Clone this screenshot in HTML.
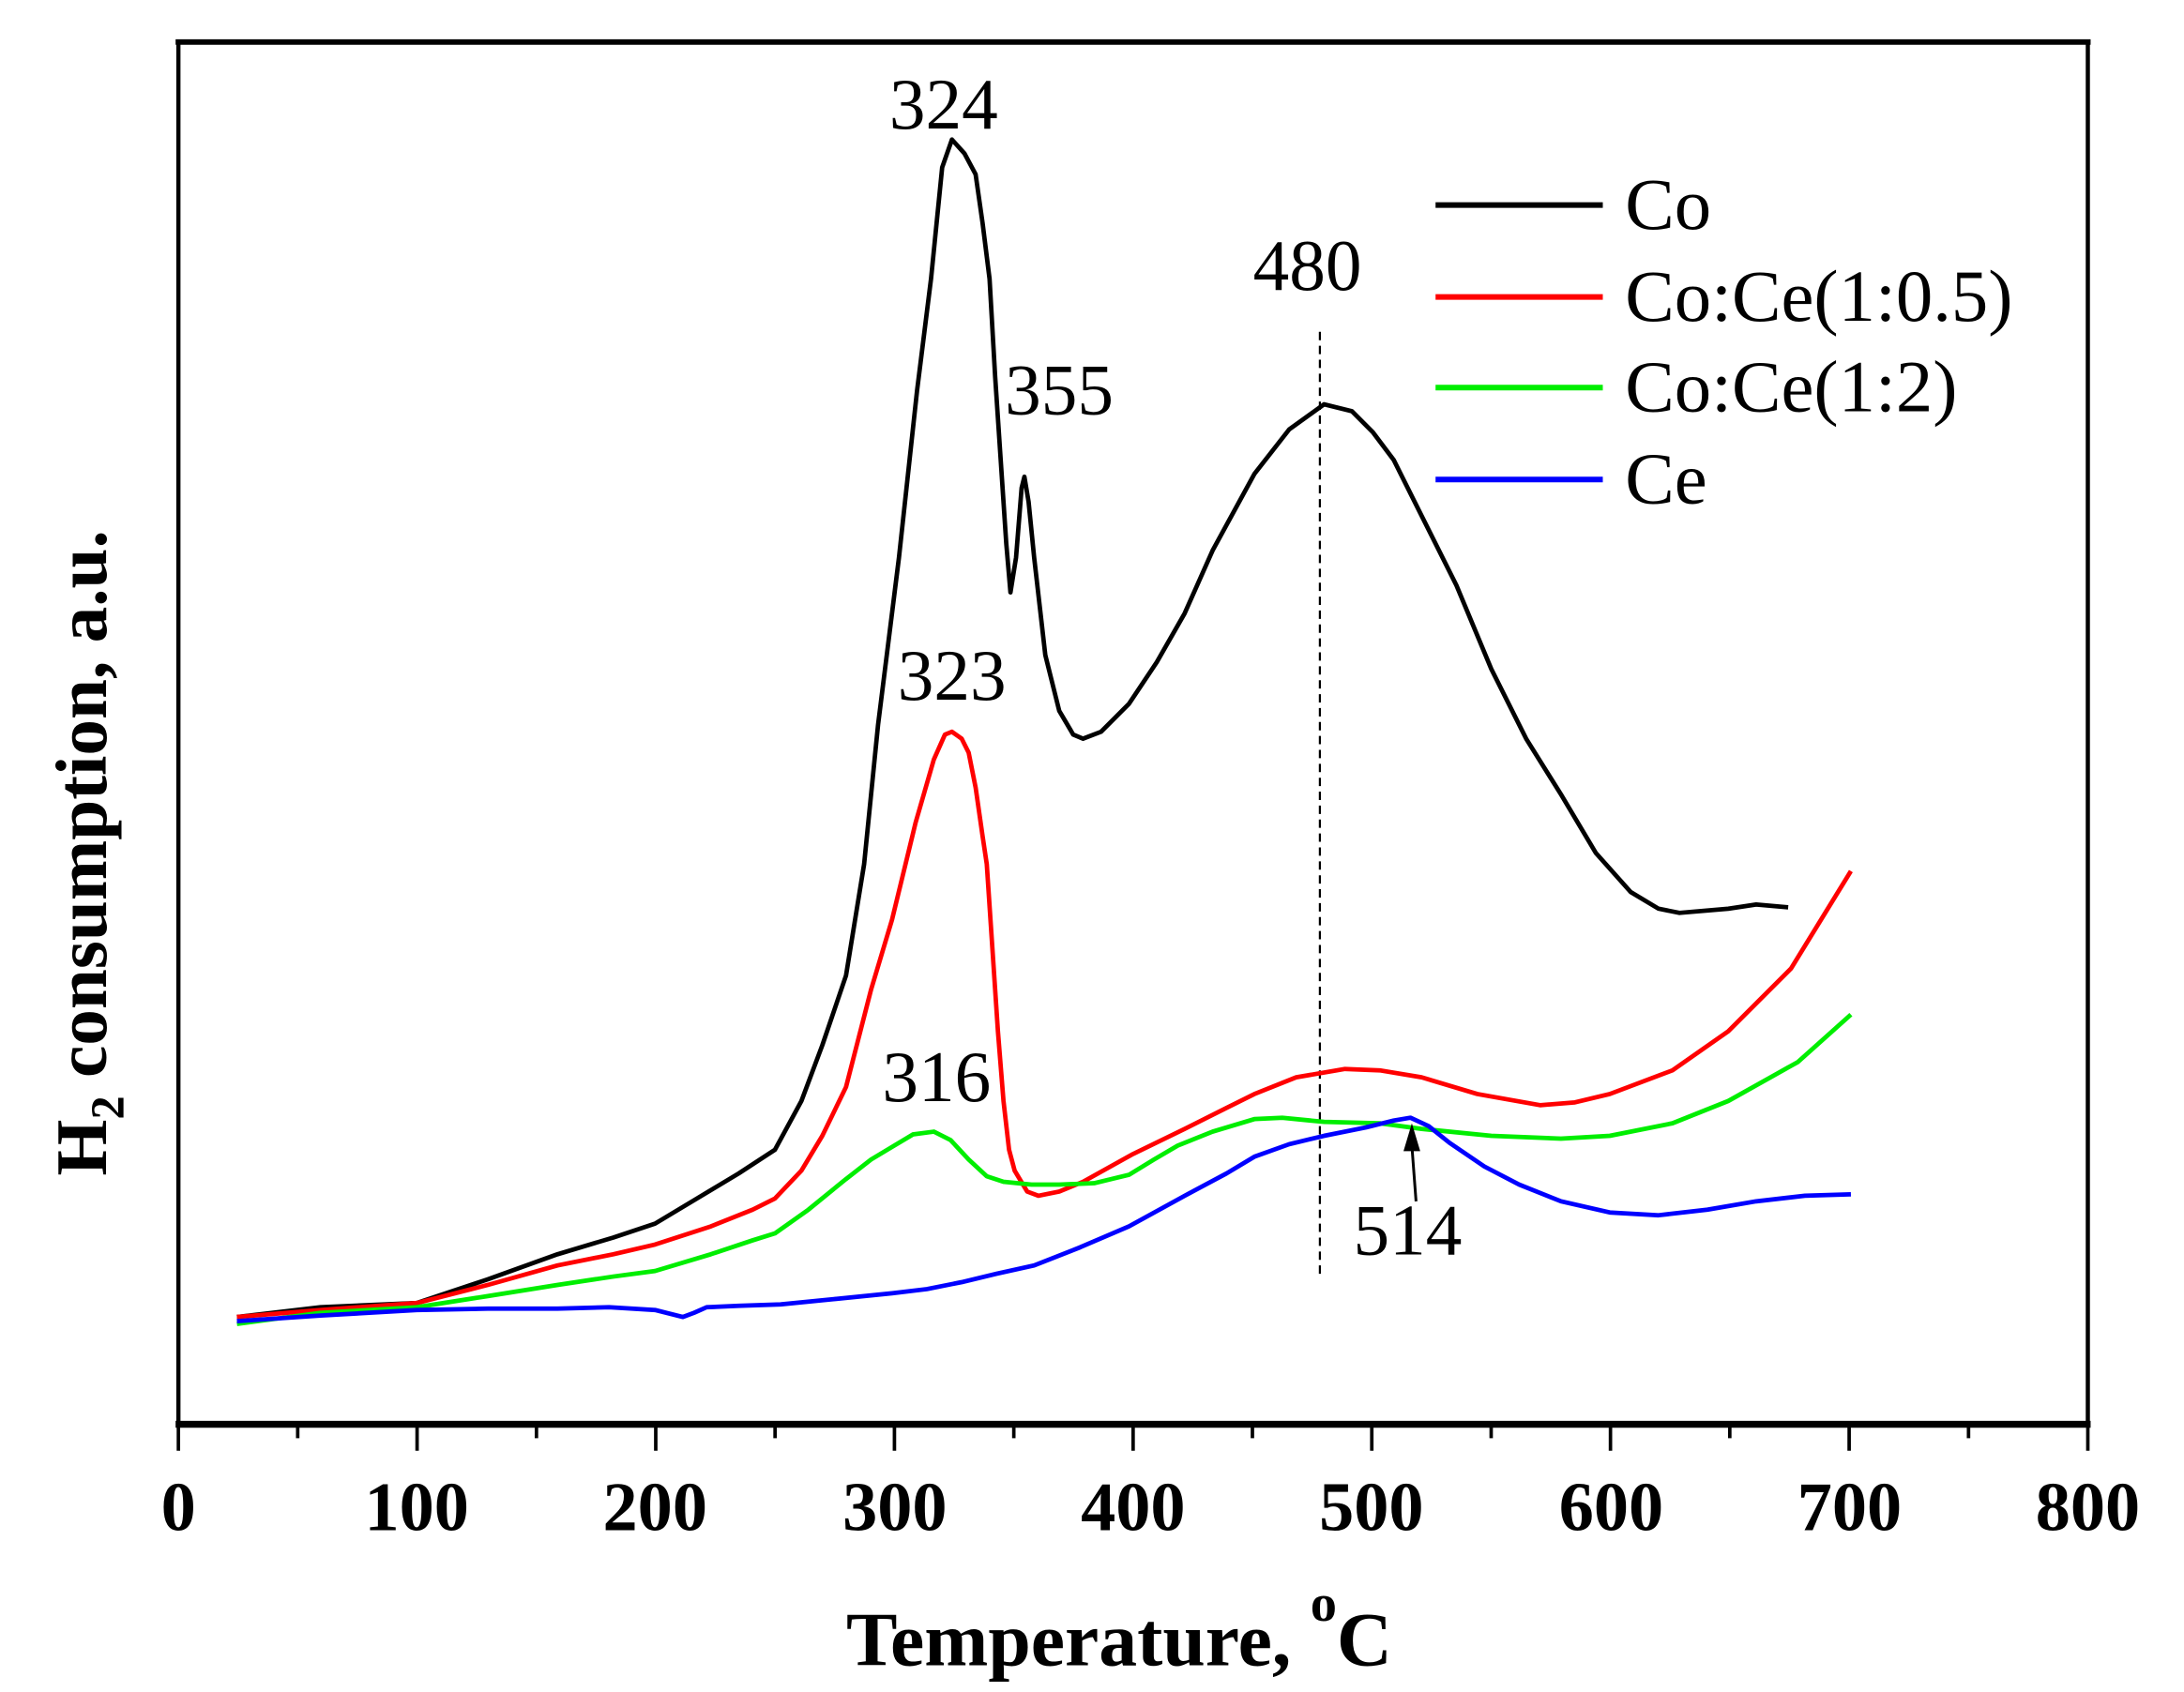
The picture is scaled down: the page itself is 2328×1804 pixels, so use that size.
<!DOCTYPE html>
<html><head><meta charset="utf-8"><style>html,body{margin:0;padding:0;background:#fff}svg{display:block}</style></head><body>
<svg width="2328" height="1804" viewBox="0 0 1567 1214" xmlns="http://www.w3.org/2000/svg" font-family="Liberation Serif, serif">
<rect width="1567" height="1214" fill="#fff"/>
<rect x="128" y="30" width="1370" height="992" fill="none" stroke="#000" stroke-width="3"/>
<line x1="126" y1="1022" x2="1500" y2="1022" stroke="#000" stroke-width="5"/>
<line x1="126" y1="30" x2="1500" y2="30" stroke="#000" stroke-width="4"/>
<g stroke="#000" stroke-width="2.5">
<line x1="128" y1="1022" x2="128" y2="1041"/><line x1="213.6" y1="1022" x2="213.6" y2="1032"/>
<line x1="299.25" y1="1022" x2="299.25" y2="1041"/><line x1="384.9" y1="1022" x2="384.9" y2="1032"/>
<line x1="470.5" y1="1022" x2="470.5" y2="1041"/><line x1="556.1" y1="1022" x2="556.1" y2="1032"/>
<line x1="641.75" y1="1022" x2="641.75" y2="1041"/><line x1="727.4" y1="1022" x2="727.4" y2="1032"/>
<line x1="813" y1="1022" x2="813" y2="1041"/><line x1="898.6" y1="1022" x2="898.6" y2="1032"/>
<line x1="984.25" y1="1022" x2="984.25" y2="1041"/><line x1="1069.9" y1="1022" x2="1069.9" y2="1032"/>
<line x1="1155.5" y1="1022" x2="1155.5" y2="1041"/><line x1="1241.1" y1="1022" x2="1241.1" y2="1032"/>
<line x1="1326.75" y1="1022" x2="1326.75" y2="1041"/><line x1="1412.4" y1="1022" x2="1412.4" y2="1032"/>
<line x1="1498" y1="1022" x2="1498" y2="1041"/>
</g>
<g font-size="50" font-weight="bold" text-anchor="middle">
<text x="128" y="1098">0</text><text x="299" y="1098">100</text><text x="470" y="1098">200</text><text x="642" y="1098">300</text><text x="813" y="1098">400</text><text x="984" y="1098">500</text><text x="1156" y="1098">600</text><text x="1327" y="1098">700</text><text x="1498" y="1098">800</text>
</g>
<text x="803" y="1195" font-size="55" font-weight="bold" text-anchor="middle">Temperature, <tspan dy="-32" font-size="38">o</tspan><tspan dy="32">C</tspan></text>
<text transform="translate(76,612) rotate(-90)" font-size="52" font-weight="bold" text-anchor="middle">H<tspan dy="13" font-size="34">2</tspan><tspan dy="-13"> consumption, a.u.</tspan></text>
<line x1="947" y1="238" x2="947" y2="917" stroke="#000" stroke-width="1.5" stroke-dasharray="6,4"/>
<g fill="none" stroke-width="3.2" stroke-linejoin="round">
<polyline stroke="#000" points="170,945 230,938 299,935 350,918 400,900 440,888 470,878 500,860 530,842 556,825 575,790 590,750 607,700 620,620 630,520 645,400 658,280 668,200 676,120 683,100 692,110 700,125 705,160 710,200 714,270 718,330 722,390 725,425 729,400 733,350 735,342 738,360 742,400 750,470 760,510 770,527 777,530 790,525 810,505 830,475 850,440 870,395 900,340 925,308 950,290 970,295 985,310 1000,330 1020,370 1045,420 1070,480 1095,530 1120,570 1145,612 1170,640 1190,652 1205,655 1240,652 1260,649 1283,651"/>
<polyline stroke="#ff0000" points="170,945 230,940 299,935 350,922 400,908 440,900 470,893 510,880 540,868 556,860 575,840 590,815 607,780 625,710 640,660 657,590 670,545 678,527 683,525 690,530 695,540 700,565 705,600 708,620 712,680 716,740 720,790 724,825 728,840 737,855 745,858 760,855 777,848 795,838 813,828 850,810 880,795 900,785 930,773 965,767 990,768 1020,773 1060,785 1105,793 1130,791 1155,785 1200,768 1240,740 1285,695 1328,625"/>
<polyline stroke="#00ee00" points="170,950 230,942 299,938 350,930 400,922 440,916 470,912 510,900 540,890 556,885 580,868 607,846 625,832 640,823 655,814 670,812 682,818 695,832 708,844 720,848 740,850 760,850 785,849 810,843 828,832 845,822 870,812 900,803 920,802 950,805 990,806 1020,810 1070,815 1120,817 1155,815 1200,806 1240,790 1290,762 1328,728"/>
<polyline stroke="#0000ff" points="170,948 230,944 299,940 350,939 400,939 437,938 470,940 482,943 490,945 498,942 507,938 530,937 560,936 600,932 640,928 665,925 690,920 715,914 742,908 775,895 810,880 850,858 880,842 900,830 925,821 950,815 980,809 1000,804 1012,802 1025,808 1040,820 1065,837 1090,850 1120,862 1155,870 1190,872 1225,868 1260,862 1295,858 1328,857"/>
</g>
<line x1="1016" y1="862" x2="1013" y2="822" stroke="#000" stroke-width="2"/>
<polygon points="1013,806 1007,826 1019,826" fill="#000"/>
<g font-size="52" text-anchor="middle">
<text x="677" y="92">324</text><text x="760" y="297">355</text><text x="938" y="208">480</text><text x="683" y="502">323</text><text x="672" y="790">316</text><text x="1010" y="900">514</text>
</g>
<g stroke-width="4">
<line x1="1030" y1="147" x2="1150" y2="147" stroke="#000"/>
<line x1="1030" y1="213" x2="1150" y2="213" stroke="#ff0000"/>
<line x1="1030" y1="278" x2="1150" y2="278" stroke="#00ee00"/>
<line x1="1030" y1="344" x2="1150" y2="344" stroke="#0000ff"/>
</g>
<g font-size="53">
<text x="1166" y="164">Co</text><text x="1166" y="230">Co:Ce(1:0.5)</text><text x="1166" y="295">Co:Ce(1:2)</text><text x="1166" y="361">Ce</text>
</g>
</svg>
</body></html>
